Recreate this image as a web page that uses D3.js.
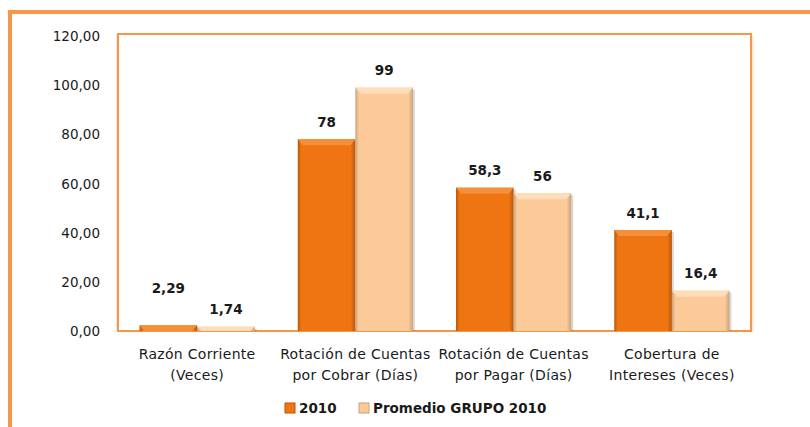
<!DOCTYPE html>
<html>
<head>
<meta charset="utf-8">
<script src="https://cdn.jsdelivr.net/npm/d3@7"></script>
<style>
  body { margin: 0; background: #fff; }
  text { font-family: "DejaVu Sans", Verdana, sans-serif; fill: #1a1a1a; }
</style>
</head>
<body>
<div id="chart"></div>
<script>
// data
const categories = [
  ["Razón Corriente", "(Veces)"],
  ["Rotación de Cuentas", "por Cobrar (Días)"],
  ["Rotación de Cuentas", "por Pagar (Días)"],
  ["Cobertura de", "Intereses (Veces)"]
]
const seriesNames = ["2010", "Promedio GRUPO 2010"]
const values2010 = [2.29, 78, 58.3, 41.1]
const valuesGrupo = [1.74, 99, 56, 16.4]
const yTicks = [0, 20, 40, 60, 80, 100, 120]

const colors = ["#EF7513", "#FCCA98"]
const edgeColors = ["#B85608", "#C9A27C"]
const topColors = ["#F58F3A", "#FEDDB8"]

const locale = d3.formatLocale({decimal: ",", thousands: ".", grouping: [3], currency: ["", ""]})
const tickFmt = locale.format(".2f")
const valFmt = locale.format("~g")

// dimensions
const width = 810, height = 427
const plot = {left: 118, right: 751, top: 34, bottom: 331}

const svg = d3.select("#chart").append("svg")
  .attr("width", width)
  .attr("height", height)

// outer frame
svg.append("rect")
  .attr("x", 10).attr("y", 12)
  .attr("width", 840).attr("height", 460)
  .attr("fill", "none")
  .attr("stroke", "#F79646")
  .attr("stroke-width", 4)

// scales
const x0 = d3.scaleBand()
  .domain(d3.range(categories.length))
  .range([plot.left, plot.right])
  .paddingInner(0.272)
  .paddingOuter(0.136)

const x1 = d3.scaleBand()
  .domain(d3.range(seriesNames.length))
  .range([0, x0.bandwidth()])

const y = d3.scaleLinear()
  .domain([0, 120])
  .range([plot.bottom, 36])

// plot area border
svg.append("line")
  .attr("x1", plot.left - 1).attr("x2", plot.left - 1)
  .attr("y1", plot.top).attr("y2", plot.bottom)
  .attr("stroke", "#c8c8c8").attr("stroke-width", 1)
svg.append("rect")
  .attr("x", plot.left).attr("y", plot.top)
  .attr("width", plot.right - plot.left)
  .attr("height", plot.bottom - plot.top)
  .attr("fill", "none")
  .attr("stroke", "#F79646")
  .attr("stroke-width", 2)
svg.append("line")
  .attr("x1", plot.right + 2).attr("x2", plot.right + 2)
  .attr("y1", plot.top + 2).attr("y2", plot.bottom + 1)
  .attr("stroke", "#fbd3b0").attr("stroke-width", 1)

// y axis labels
const yAxis = svg.append("g")
  .attr("transform", `translate(${plot.left - 18},0)`)
  .call(d3.axisLeft(y).tickValues(yTicks).tickFormat(tickFmt).tickSize(0).tickPadding(0))
yAxis.select(".domain").remove()
yAxis.selectAll("text")
  .style("font-family", "DejaVu Sans, Verdana, sans-serif")
  .style("font-size", "13.5px")
  .attr("fill", "#1e2430")
  .attr("dy", "0.34em")

// gradients for bevel look
const defs = svg.append("defs")
colors.forEach((c, s) => {
  const g = defs.append("linearGradient")
    .attr("id", "grad" + s)
    .attr("x1", 0).attr("x2", 1).attr("y1", 0).attr("y2", 0)
  g.append("stop").attr("offset", "0%").attr("stop-color", edgeColors[s])
  g.append("stop").attr("offset", "6%").attr("stop-color", c)
  g.append("stop").attr("offset", "92%").attr("stop-color", c)
  g.append("stop").attr("offset", "100%").attr("stop-color", edgeColors[s])
})

// bars
const allSeries = [values2010, valuesGrupo]
const bars = []
allSeries.forEach((vals, s) => {
  vals.forEach((v, i) => bars.push({s, i, v}))
})

const barG = svg.append("g")

// shadow
barG.selectAll("rect.shadow")
  .data(bars)
  .join("rect")
  .attr("class", "shadow")
  .attr("x", d => x0(d.i) + x1(d.s) + 2)
  .attr("y", d => y(d.v) + 2)
  .attr("width", x1.bandwidth())
  .attr("height", d => plot.bottom - y(d.v) - 2)
  .attr("fill", "#000")
  .attr("opacity", 0.15)

barG.selectAll("rect.bar")
  .data(bars)
  .join("rect")
  .attr("class", "bar")
  .attr("x", d => x0(d.i) + x1(d.s))
  .attr("y", d => y(d.v))
  .attr("width", x1.bandwidth())
  .attr("height", d => plot.bottom - y(d.v))
  .attr("fill", d => `url(#grad${d.s})`)

// top bevel
barG.selectAll("path.top")
  .data(bars)
  .join("path")
  .attr("class", "top")
  .attr("d", d => {
    const x = x0(d.i) + x1(d.s), w = x1.bandwidth(), t = y(d.v)
    const h = Math.min(6, plot.bottom - t)
    return `M${x},${t}H${x + w}L${x + w - 5},${t + h}H${x + 5}Z`
  })
  .attr("fill", d => topColors[d.s])

// value labels
svg.append("g").selectAll("text")
  .data(bars)
  .join("text")
  .attr("x", d => x0(d.i) + x1(d.s) + x1.bandwidth() / 2)
  .attr("y", d => y(d.v) - ((d.s === 0 && d.i === 0) ? 37 : 17))
  .attr("dy", "0.35em")
  .attr("text-anchor", "middle")
  .style("font-size", "13.5px")
  .style("font-weight", "bold")
  .text(d => valFmt(d.v))

// category labels
const catG = svg.append("g").selectAll("text")
  .data(categories)
  .join("text")
  .attr("x", (d, i) => x0(i) + x0.bandwidth() / 2)
  .attr("y", 354)
  .attr("text-anchor", "middle")
  .style("font-size", "14px")
  .style("letter-spacing", "0.3px")
catG.selectAll("tspan")
  .data(d => d)
  .join("tspan")
  .attr("x", function() { return d3.select(this.parentNode).attr("x") })
  .attr("dy", (d, j) => j === 0 ? "0.35em" : "21")
  .text(d => d)

// legend
const legend = svg.append("g").attr("transform", "translate(285,408)")
const legendX = [0, 74]
seriesNames.forEach((name, s) => {
  const item = legend.append("g").attr("transform", `translate(${legendX[s]},0)`)
  item.append("rect")
    .attr("x", 0).attr("y", -5)
    .attr("width", 10).attr("height", 10)
    .attr("fill", colors[s])
    .attr("stroke", edgeColors[s])
    .attr("stroke-width", 1)
  item.append("text")
    .attr("x", 14)
    .attr("dy", "0.35em")
    .style("font-size", "13.5px")
    .style("font-weight", "bold")
    .text(name)
})
</script>
</body>
</html>
